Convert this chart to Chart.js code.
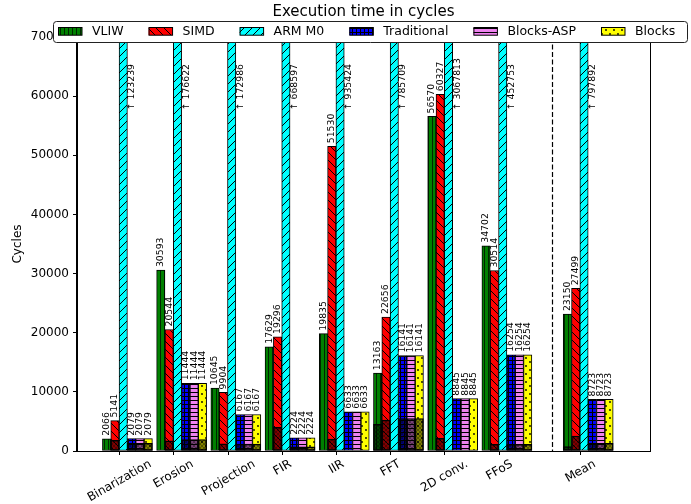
<!DOCTYPE html>
<html>
<head>
<meta charset="utf-8">
<script src="https://cdn.jsdelivr.net/npm/chart.js@4.4.0/dist/chart.umd.min.js"></script>
<style>
  html, body { margin: 0; padding: 0; background: #fff; }
  #wrap { width: 691px; height: 504px; }
</style>
</head>
<body>
<div id="wrap"><canvas id="execution_chart" width="691" height="504"></canvas></div>
<script>
// benchmarks and where each group sits on the x axis (Mean is set apart)
const benchmarks = ['Binarization', 'Erosion', 'Projection', 'FIR', 'IIR', 'FFT', '2D conv.', 'FFoS', 'Mean'];
const positions = [0, 1, 2, 3, 4, 5, 6, 7, 8.5];
const separatorAt = 7.84;

const seriesNames = ['VLIW', 'SIMD', 'ARM M0', 'Traditional', 'Blocks-ASP', 'Blocks'];

const vliw        = [2066, 30593, 10645, 17629, 19835, 13163, 56570, 34702, 23150];
const simd        = [5141, 20544, 9904, 19296, 51530, 22656, 60327, 30514, 27499];
const armM0       = [123239, 176622, 172986, 668597, 935424, 785709, 3067813, 452753, 797892];
const traditional = [2079, 11444, 6167, 2224, 6633, 16141, 8845, 16254, 8723];
const blocksAsp   = [2079, 11444, 6167, 2224, 6633, 16141, 8845, 16254, 8723];
const blocks      = [2079, 11444, 6167, 2224, 6633, 16141, 8845, 16254, 8723];

// darker lower part of each bar
const vliwDark        = [0, 0, 0, 0, 0, 4500, 0, 0, 740];
const simdDark        = [1800, 1700, 1200, 4000, 2000, 5240, 2140, 1130, 2540];
const armM0Dark       = [0, 0, 0, 0, 0, 0, 0, 0, 0];
const traditionalDark = [1300, 1950, 1180, 700, 0, 5500, 0, 1130, 1300];
const blocksAspDark   = [1300, 1950, 1180, 700, 0, 5500, 0, 1130, 1300];
const blocksDark      = [1300, 1950, 1180, 700, 0, 5500, 0, 1130, 1300];

const yTicks = [0, 10000, 20000, 30000, 40000, 50000, 60000, 70000];

const FONT = '"DejaVu Sans", sans-serif';
const BAR_W = 8.33;

// hatch patterns in the spirit of matplotlib
function makePattern(base, size, draw) {
    const c = document.createElement('canvas');
    c.width = size; c.height = size;
    const g = c.getContext('2d');
    g.fillStyle = base;
    g.fillRect(0, 0, size, size);
    g.strokeStyle = '#000';
    g.fillStyle = '#000';
    g.lineWidth = 1;
    draw(g, size);
    return g.createPattern(c, 'repeat');
}

const patterns = [
    makePattern('#008000', 4, (g, s) => { g.fillStyle = 'rgba(0,0,0,0.7)'; g.fillRect(0, 0, 1, s); }),
    makePattern('#ff0000', 8, (g, s) => {
        g.beginPath();
        g.moveTo(0, 0); g.lineTo(s, s);
        g.moveTo(-1, s - 1); g.lineTo(1, s + 1);
        g.moveTo(s - 1, -1); g.lineTo(s + 1, 1);
        g.stroke();
    }),
    makePattern('#00ffff', 8, (g, s) => {
        g.beginPath();
        g.moveTo(0, s); g.lineTo(s, 0);
        g.moveTo(-1, 1); g.lineTo(1, -1);
        g.moveTo(s - 1, s + 1); g.lineTo(s + 1, s - 1);
        g.stroke();
    }),
    makePattern('#0000ff', 4, (g, s) => { g.fillRect(0, 0, s, 1); g.fillRect(0, 0, 1, s); }),
    makePattern('#ee82ee', 4, (g, s) => { g.fillRect(0, 0, s, 1); }),
    makePattern('#ffff00', 8, (g, s) => {
        g.beginPath(); g.arc(2, 2, 0.9, 0, Math.PI * 2); g.fill();
        g.beginPath(); g.arc(6, 6, 0.9, 0, Math.PI * 2); g.fill();
    })
];

const darkPattern = makePattern('rgba(0,0,0,0.5)', 4, (g, s) => {
    g.strokeStyle = 'rgba(0,0,0,0.35)';
    g.beginPath();
    g.moveTo(0, 0); g.lineTo(s, s);
    g.moveTo(0, s); g.lineTo(s, 0);
    g.stroke();
});

const seriesValues = [vliw, simd, armM0, traditional, blocksAsp, blocks];
const seriesDark = [vliwDark, simdDark, armM0Dark, traditionalDark, blocksAspDark, blocksDark];

const yMax = yTicks[yTicks.length - 1];

let datasets = [];
seriesNames.map((name, s) => {
    datasets.push({
        label: name,
        data: positions.map((x, i) => ({ x: x, y: seriesValues[s][i] })),
        backgroundColor: patterns[s],
        borderColor: '#000',
        borderWidth: 1,
        borderSkipped: false,
        stack: 's' + s,
        order: 1,
        isMain: true
    });
    datasets.push({
        label: name + ' (dark)',
        data: positions.map((x, i) => ({ x: x, y: seriesDark[s][i] })),
        backgroundColor: darkPattern,
        borderColor: '#000',
        borderWidth: 0.8,
        borderSkipped: false,
        stack: 's' + s,
        order: 0,
        isMain: false
    });
});

const decorations = {
    id: 'decorations',
    afterDatasetsDraw(chart) {
        const ctx = chart.ctx;
        const area = chart.chartArea;
        const xs = chart.scales.x;
        const ys = chart.scales.y;

        // value labels above bars
        ctx.save();
        ctx.fillStyle = '#000';
        ctx.font = '9.3px ' + FONT;
        chart.data.datasets.forEach((ds, d) => {
            if (!ds.isMain) return;
            const meta = chart.getDatasetMeta(d);
            meta.data.forEach((bar, i) => {
                const v = ds.data[i].y;
                ctx.save();
                ctx.textBaseline = 'middle';
                ctx.textAlign = 'left';
                if (v > yMax) {
                    ctx.translate(bar.x + bar.width / 2 + 4.5, ys.getPixelForValue(yMax * 0.823));
                    ctx.rotate(-Math.PI / 2);
                    ctx.fillText('\u2191 ' + v, 0, 0);
                } else {
                    ctx.translate(bar.x, bar.y - 3);
                    ctx.rotate(-Math.PI / 2);
                    ctx.fillText(String(v), 0, 0);
                }
                ctx.restore();
            });
        });
        ctx.restore();

        // dashed separator before Mean
        ctx.save();
        const sx = Math.round(xs.getPixelForValue(separatorAt)) + 0.5;
        ctx.strokeStyle = '#000';
        ctx.lineWidth = 1.2;
        ctx.setLineDash([5, 2.5]);
        ctx.beginPath();
        ctx.moveTo(sx, area.top);
        ctx.lineTo(sx, area.bottom);
        ctx.stroke();
        ctx.restore();

        // frame
        ctx.save();
        ctx.strokeStyle = '#000';
        ctx.lineWidth = 1;
        ctx.strokeRect(Math.round(area.left) - 0.5, Math.round(area.top) + 0.5,
            Math.round(area.right - area.left) + 1, Math.round(area.bottom - area.top));
        ctx.restore();
    },
    afterDraw(chart) {
        const ctx = chart.ctx;
        const area = chart.chartArea;
        const xs = chart.scales.x;

        // x ticks and rotated labels, centred under the tick
        ctx.save();
        ctx.strokeStyle = '#000';
        ctx.fillStyle = '#000';
        ctx.font = '12px ' + FONT;
        const ang = 30 * Math.PI / 180;
        benchmarks.forEach((name, i) => {
            const tx = Math.round(xs.getPixelForValue(positions[i]) - BAR_W) + 0.5;
            ctx.beginPath();
            ctx.moveTo(tx, area.bottom);
            ctx.lineTo(tx, area.bottom + 4);
            ctx.stroke();
            const w = ctx.measureText(name).width;
            const h = 12;
            const boxH = w * Math.sin(ang) + h * Math.cos(ang);
            ctx.save();
            ctx.translate(tx, area.bottom + 7 + boxH / 2);
            ctx.rotate(-ang);
            ctx.textAlign = 'center';
            ctx.textBaseline = 'middle';
            ctx.fillText(name, 0, 0);
            ctx.restore();
        });
        ctx.restore();

        // y axis title
        ctx.save();
        ctx.fillStyle = '#000';
        ctx.font = '12px ' + FONT;
        ctx.translate(18, (area.top + area.bottom) / 2);
        ctx.rotate(-Math.PI / 2);
        ctx.textAlign = 'center';
        ctx.textBaseline = 'middle';
        ctx.fillText('Cycles', 0, 0);
        ctx.restore();

        // title
        ctx.save();
        ctx.fillStyle = '#000';
        ctx.font = '15px ' + FONT;
        ctx.textAlign = 'center';
        ctx.textBaseline = 'alphabetic';
        ctx.fillText('Execution time in cycles', (area.left + area.right) / 2, 15.5);
        ctx.restore();

        // legend box, overlapping the top of the axes
        ctx.save();
        ctx.font = '12.5px ' + FONT;
        ctx.fillStyle = '#fff';
        ctx.strokeStyle = '#222';
        ctx.lineWidth = 1;
        ctx.beginPath();
        ctx.roundRect(53.5, 21.5, 634, 21, 3);
        ctx.fill();
        ctx.stroke();
        let lx = 58;
        seriesNames.forEach((name, s) => {
            ctx.fillStyle = patterns[s];
            ctx.fillRect(lx, 27.5, 24, 7.7);
            ctx.strokeStyle = '#000';
            ctx.strokeRect(lx + 0.5, 27.5, 23.5, 7.7);
            ctx.fillStyle = '#000';
            ctx.textAlign = 'left';
            ctx.textBaseline = 'middle';
            ctx.fillText(name, lx + 34, 32);
            lx += 34 + ctx.measureText(name).width + 25;
        });
        ctx.restore();
    }
};

const ctx = document.getElementById('execution_chart').getContext('2d');

const config = {
    type: 'bar',
    data: { datasets: datasets },
    options: {
        responsive: false,
        animation: false,
        layout: { padding: { top: 37, right: 41, left: 0, bottom: 0 } },
        datasets: {
            bar: { barThickness: BAR_W, grouped: true }
        },
        plugins: {
            legend: { display: false },
            tooltip: { enabled: false },
            title: { display: false }
        },
        scales: {
            x: {
                type: 'linear',
                offset: false,
                min: -0.93,
                max: 9.64,
                ticks: { display: false },
                grid: { display: false },
                border: { display: true, color: '#000' },
                afterFit: (scale) => { scale.height = 53; }
            },
            y: {
                stacked: false,
                min: 0,
                max: yMax,
                afterBuildTicks: (scale) => { scale.ticks = yTicks.map((v) => ({ value: v })); },
                ticks: {
                    color: '#000',
                    padding: 4,
                    font: { size: 12, family: FONT },
                    callback: (v) => String(v)
                },
                grid: { drawOnChartArea: false, tickLength: 4, color: '#000' },
                border: { display: true, color: '#000' },
                afterFit: (scale) => { scale.width = 77; }
            }
        }
    },
    plugins: [decorations]
};

new Chart(ctx, config);
</script>
</body>
</html>
